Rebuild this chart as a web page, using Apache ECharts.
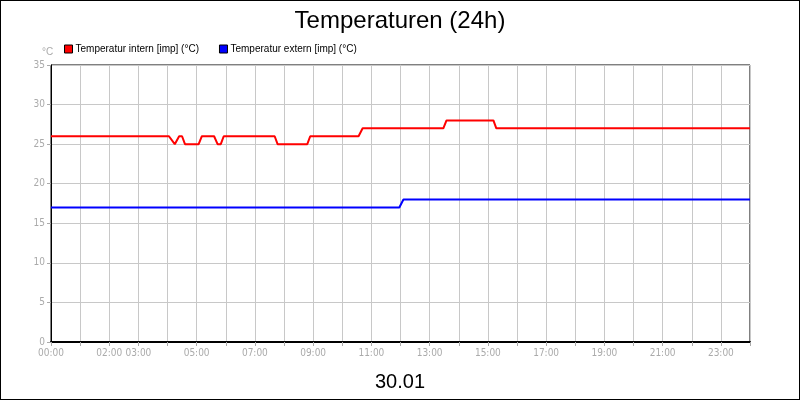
<!DOCTYPE html>
<html><head><meta charset="utf-8">
<script src="https://cdn.jsdelivr.net/npm/echarts@6/dist/echarts.min.js"></script>
<style>html,body{margin:0;padding:0;background:#fff}#c{width:798px;height:398px;border:1px solid #000}</style>
</head><body><div id="c"></div>
<script>
const hourLabels = [0,2,3,5,7,9,11,13,15,17,19,21,23];
const internHours = [0,4.05,4.25,4.4,4.5,4.6,5.07,5.18,5.6,5.72,5.83,5.93,7.68,7.78,8.8,8.9,10.56,10.7,13.47,13.58,15.19,15.29,24];
const internTemps = [26,26,25,26,26,25,25,26,26,25,25,26,26,25,25,26,26,27,27,28,28,27,27];
const externHours = [0,11.96,12.1,24];
const externTemps = [17,17,18,18];
const zip=(a,b)=>a.map((v,i)=>[v,b[i]]);
const c=echarts.init(document.getElementById('c'));
const pad=h=>String(h).padStart(2,'0')+':00';
c.setOption({
  animation:false,
  title:[{text:'Temperaturen (24h)',left:'center',top:3,textStyle:{fontSize:24,fontWeight:'normal',color:'#000',fontFamily:'Liberation Sans'}},
         {text:'30.01',left:'center',top:366,textStyle:{fontSize:20,fontWeight:'normal',color:'#000',fontFamily:'Liberation Sans'}},
         {text:'°C',left:36,top:41,textStyle:{fontSize:10,fontWeight:'normal',color:'#aaa',fontFamily:'Liberation Sans'}}],
  legend:{left:58,top:38,itemWidth:8,itemHeight:8,itemGap:20,icon:'rect',
    textStyle:{fontSize:10,color:'#000',fontFamily:'Liberation Sans',padding:[0,0,0,-2]},
    data:[{name:'Temperatur intern [imp] (°C)',itemStyle:{borderColor:'#000',borderWidth:1}},{name:'Temperatur extern [imp] (°C)',itemStyle:{borderColor:'#000',borderWidth:1}}]},
  grid:{left:50,right:49,top:64,bottom:57,show:true,borderColor:'#000',borderWidth:1},
  xAxis:{type:'value',min:0,max:24,interval:1,
    axisLine:{show:true,lineStyle:{color:'#000',width:2}},axisTick:{show:true,length:4,lineStyle:{color:'#aaa'}},
    splitLine:{show:true,lineStyle:{color:'#c8c8c8'}},
    axisLabel:{fontSize:10,color:'#aaa',fontFamily:'DejaVu Sans Condensed',margin:6,
      formatter:v=>hourLabels.includes(v)?pad(v):''}},
  yAxis:{type:'value',min:0,max:35,interval:5,
    axisLine:{show:true,lineStyle:{color:'#000'}},axisTick:{show:true,length:4,lineStyle:{color:'#aaa'}},
    splitLine:{show:true,lineStyle:{color:'#c8c8c8'}},
    axisLabel:{fontSize:10,color:'#aaa',fontFamily:'DejaVu Sans Condensed',margin:6}},
  series:[
    {name:'Temperatur intern [imp] (°C)',type:'line',data:zip(internHours,internTemps),showSymbol:false,itemStyle:{color:'#f00'},lineStyle:{color:'#f00',width:2}},
    {name:'Temperatur extern [imp] (°C)',type:'line',data:zip(externHours,externTemps),showSymbol:false,itemStyle:{color:'#00f'},lineStyle:{color:'#00f',width:2}}
  ]
});
</script></body></html>
